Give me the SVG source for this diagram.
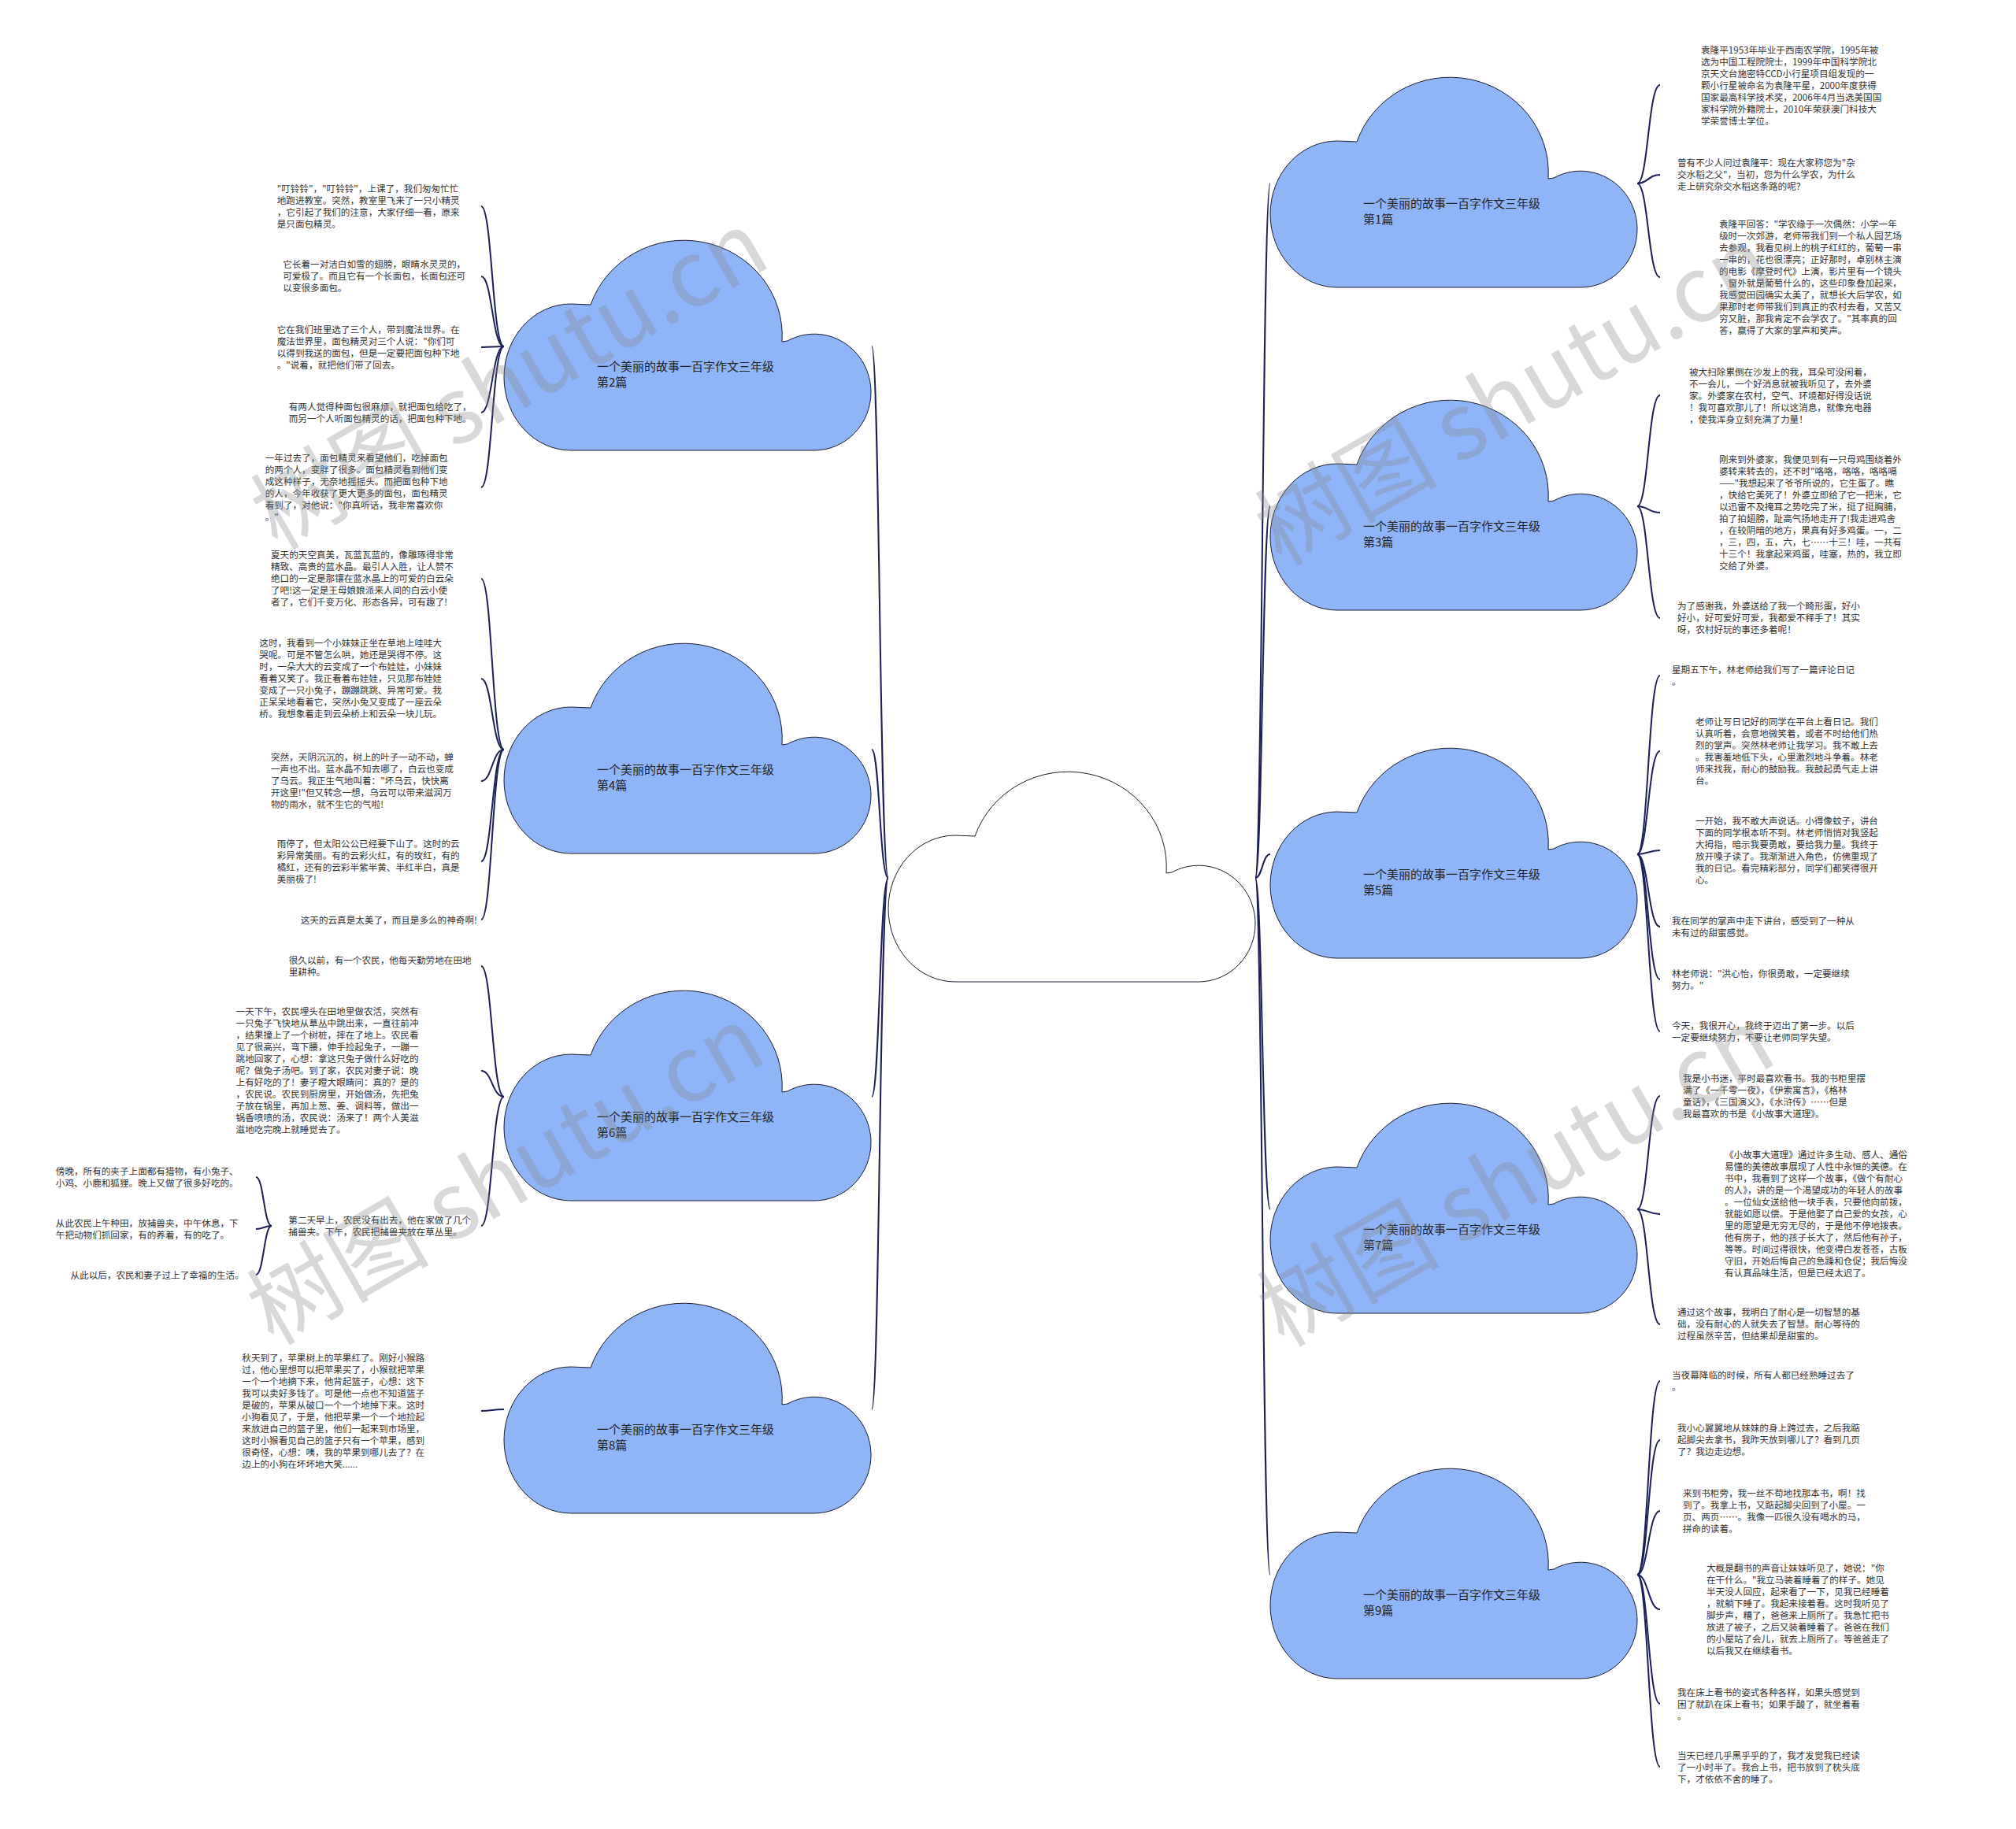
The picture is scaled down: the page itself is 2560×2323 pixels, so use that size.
<svg xmlns="http://www.w3.org/2000/svg" width="2560" height="2323" viewBox="0 0 2560 2323">
<style>
.t{font-family:"Noto Sans CJK SC","Noto Sans",sans-serif;font-size:11.6px;fill:#333}
.lb{font-family:"Noto Sans CJK SC","Noto Sans",sans-serif;font-size:15px;fill:#222}
.cb{fill:#8db5f8;stroke:#1a1a2e;stroke-width:1}
.cw{fill:#fff;stroke:#1a1a2e;stroke-width:1}
.c{fill:none;stroke:#1a1f55;stroke-width:2}
.wm{font-family:"Noto Sans CJK SC","Noto Sans",sans-serif;font-size:116px;fill:#8a8a8a;opacity:0.33}
</style>
<defs>
<path id="cloud" d="M85,264 A85 93 0 0 1 85,78 L110,79 A125 121 0 0 1 353,126 L360,125 A72 74 0 0 1 466,190 A72 74 0 0 1 394,264 Z"/>
</defs>
<rect width="2560" height="2323" fill="#fff"/>
<g id="connectors">
<path class="c" d="M1128,1115 C1117,1115 1117,440 1107,440"/>
<path class="c" d="M1128,1115 C1117,1115 1117,952 1107,952"/>
<path class="c" d="M1128,1115 C1117,1115 1117,1393 1107,1393"/>
<path class="c" d="M1128,1115 C1117,1115 1117,1790 1107,1790"/>
<path class="c" d="M1594,1115 C1603,1115 1603,233 1613,233"/>
<path class="c" d="M1594,1115 C1603,1115 1603,643 1613,643"/>
<path class="c" d="M1594,1115 C1603,1115 1603,1085 1613,1085"/>
<path class="c" d="M1594,1115 C1603,1115 1603,1536 1613,1536"/>
<path class="c" d="M1594,1115 C1603,1115 1603,2000 1613,2000"/>
<path class="c" d="M2079,233 C2093,233 2093,108 2108,108"/>
<path class="c" d="M2079,233 C2093,233 2093,222 2108,222"/>
<path class="c" d="M2079,233 C2093,233 2093,352 2108,352"/>
<path class="c" d="M2079,643 C2093,643 2093,502 2108,502"/>
<path class="c" d="M2079,643 C2093,643 2093,651 2108,651"/>
<path class="c" d="M2079,643 C2093,643 2093,785 2108,785"/>
<path class="c" d="M2079,1085 C2093,1085 2093,858 2108,858"/>
<path class="c" d="M2079,1085 C2093,1085 2093,954 2108,954"/>
<path class="c" d="M2079,1085 C2093,1085 2093,1080 2108,1080"/>
<path class="c" d="M2079,1085 C2093,1085 2093,1177 2108,1177"/>
<path class="c" d="M2079,1085 C2093,1085 2093,1244 2108,1244"/>
<path class="c" d="M2079,1085 C2093,1085 2093,1310 2108,1310"/>
<path class="c" d="M2079,1536 C2093,1536 2093,1392 2108,1392"/>
<path class="c" d="M2079,1536 C2093,1536 2093,1542 2108,1542"/>
<path class="c" d="M2079,1536 C2093,1536 2093,1682 2108,1682"/>
<path class="c" d="M2079,2000 C2093,2000 2093,1754 2108,1754"/>
<path class="c" d="M2079,2000 C2093,2000 2093,1829 2108,1829"/>
<path class="c" d="M2079,2000 C2093,2000 2093,1919 2108,1919"/>
<path class="c" d="M2079,2000 C2093,2000 2093,2044 2108,2044"/>
<path class="c" d="M2079,2000 C2093,2000 2093,2164 2108,2164"/>
<path class="c" d="M2079,2000 C2093,2000 2093,2244 2108,2244"/>
<path class="c" d="M640,440 C625,440 625,262 611,262"/>
<path class="c" d="M640,440 C625,440 625,351 611,351"/>
<path class="c" d="M640,440 C625,440 625,441 611,441"/>
<path class="c" d="M640,440 C625,440 625,524 611,524"/>
<path class="c" d="M640,440 C625,440 625,619 611,619"/>
<path class="c" d="M640,952 C625,952 625,735 611,735"/>
<path class="c" d="M640,952 C625,952 625,862 611,862"/>
<path class="c" d="M640,952 C625,952 625,992 611,992"/>
<path class="c" d="M640,952 C625,952 625,1094 611,1094"/>
<path class="c" d="M640,952 C625,952 625,1168 611,1168"/>
<path class="c" d="M640,1393 C625,1393 625,1227 611,1227"/>
<path class="c" d="M640,1393 C625,1393 625,1360 611,1360"/>
<path class="c" d="M640,1393 C625,1393 625,1557 611,1557"/>
<path class="c" d="M640,1790 C625,1790 625,1792 611,1792"/>
<path class="c" d="M345,1557 C335,1557 335,1495 325,1495"/>
<path class="c" d="M345,1557 C335,1557 335,1561 325,1561"/>
<path class="c" d="M345,1557 C335,1557 335,1619 325,1619"/>
</g>
<g id="root"><use href="#cloud" class="cw" transform="translate(1128,983)"/></g>
<g id="n1"><use href="#cloud" class="cb" transform="translate(1613,101)"/><text class="lb" x="1731" y="264">一个美丽的故事一百字作文三年级<tspan x="1731" dy="20">第1篇</tspan></text></g>
<g id="n3"><use href="#cloud" class="cb" transform="translate(1613,511)"/><text class="lb" x="1731" y="674">一个美丽的故事一百字作文三年级<tspan x="1731" dy="20">第3篇</tspan></text></g>
<g id="n5"><use href="#cloud" class="cb" transform="translate(1613,953)"/><text class="lb" x="1731" y="1116">一个美丽的故事一百字作文三年级<tspan x="1731" dy="20">第5篇</tspan></text></g>
<g id="n7"><use href="#cloud" class="cb" transform="translate(1613,1404)"/><text class="lb" x="1731" y="1567">一个美丽的故事一百字作文三年级<tspan x="1731" dy="20">第7篇</tspan></text></g>
<g id="n9"><use href="#cloud" class="cb" transform="translate(1613,1868)"/><text class="lb" x="1731" y="2031">一个美丽的故事一百字作文三年级<tspan x="1731" dy="20">第9篇</tspan></text></g>
<g id="n2"><use href="#cloud" class="cb" transform="translate(640,308)"/><text class="lb" x="758" y="471">一个美丽的故事一百字作文三年级<tspan x="758" dy="20">第2篇</tspan></text></g>
<g id="n4"><use href="#cloud" class="cb" transform="translate(640,820)"/><text class="lb" x="758" y="983">一个美丽的故事一百字作文三年级<tspan x="758" dy="20">第4篇</tspan></text></g>
<g id="n6"><use href="#cloud" class="cb" transform="translate(640,1261)"/><text class="lb" x="758" y="1424">一个美丽的故事一百字作文三年级<tspan x="758" dy="20">第6篇</tspan></text></g>
<g id="n8"><use href="#cloud" class="cb" transform="translate(640,1658)"/><text class="lb" x="758" y="1821">一个美丽的故事一百字作文三年级<tspan x="758" dy="20">第8篇</tspan></text></g>
<g id="b1"><text class="t" x="2160" y="67.6">袁隆平1953年毕业于西南农学院，1995年被<tspan x="2160" dy="15">选为中国工程院院士，1999年中国科学院北</tspan><tspan x="2160" dy="15">京天文台施密特CCD小行星项目组发现的一</tspan><tspan x="2160" dy="15">颗小行星被命名为袁隆平星，2000年度获得</tspan><tspan x="2160" dy="15">国家最高科学技术奖，2006年4月当选美国国</tspan><tspan x="2160" dy="15">家科学院外籍院士，2010年荣获澳门科技大</tspan><tspan x="2160" dy="15">学荣誉博士学位。</tspan></text></g>
<g id="b2"><text class="t" x="2130" y="211">曾有不少人问过袁隆平：现在大家称您为"杂<tspan x="2130" dy="15">交水稻之父"，当初，您为什么学农，为什么</tspan><tspan x="2130" dy="15">走上研究杂交水稻这条路的呢？</tspan></text></g>
<g id="b3"><text class="t" x="2183" y="289.3">袁隆平回答："学农缘于一次偶然：小学一年<tspan x="2183" dy="15">级时一次郊游，老师带我们到一个私人园艺场</tspan><tspan x="2183" dy="15">去参观，我看见树上的桃子红红的，葡萄一串</tspan><tspan x="2183" dy="15">一串的，花也很漂亮；正好那时，卓别林主演</tspan><tspan x="2183" dy="15">的电影《摩登时代》上演，影片里有一个镜头</tspan><tspan x="2183" dy="15">，窗外就是葡萄什么的，这些印象叠加起来，</tspan><tspan x="2183" dy="15">我感觉田园确实太美了，就想长大后学农，如</tspan><tspan x="2183" dy="15">果那时老师带我们到真正的农村去看，又苦又</tspan><tspan x="2183" dy="15">穷又脏，那我肯定不会学农了。"其率真的回</tspan><tspan x="2183" dy="15">答，赢得了大家的掌声和笑声。</tspan></text></g>
<g id="b4"><text class="t" x="2145" y="476.6">被大扫除累倒在沙发上的我，耳朵可没闲着，<tspan x="2145" dy="15">不一会儿，一个好消息就被我听见了，去外婆</tspan><tspan x="2145" dy="15">家。外婆家在农村，空气、环境都好得没话说</tspan><tspan x="2145" dy="15">！我可喜欢那儿了！所以这消息，就像充电器</tspan><tspan x="2145" dy="15">，使我浑身立刻充满了力量！</tspan></text></g>
<g id="b5"><text class="t" x="2183" y="588.3">刚来到外婆家，我便见到有一只母鸡围绕着外<tspan x="2183" dy="15">婆转来转去的，还不时"咯咯，咯咯，咯咯嗝</tspan><tspan x="2183" dy="15">——"我想起来了爷爷所说的，它生蛋了。瞧</tspan><tspan x="2183" dy="15">，快给它美死了！外婆立即给了它一把米，它</tspan><tspan x="2183" dy="15">以迅雷不及掩耳之势吃完了米，挺了挺胸脯，</tspan><tspan x="2183" dy="15">拍了拍翅膀，趾高气扬地走开了!我走进鸡舍</tspan><tspan x="2183" dy="15">，在较阴暗的地方，果真有好多鸡蛋。一，二</tspan><tspan x="2183" dy="15">，三，四，五，六，七……十三！哇，一共有</tspan><tspan x="2183" dy="15">十三个！我拿起来鸡蛋，哇塞，热的，我立即</tspan><tspan x="2183" dy="15">交给了外婆。</tspan></text></g>
<g id="b6"><text class="t" x="2130" y="774.3">为了感谢我，外婆送给了我一个畸形蛋，好小<tspan x="2130" dy="15">好小，好可爱好可爱，我都爱不释手了！其实</tspan><tspan x="2130" dy="15">呀，农村好玩的事还多着呢！</tspan></text></g>
<g id="b7"><text class="t" x="2123" y="855">星期五下午，林老师给我们写了一篇评论日记<tspan x="2123" dy="15">。</tspan></text></g>
<g id="b8"><text class="t" x="2153" y="921.3">老师让写日记好的同学在平台上看日记。我们<tspan x="2153" dy="15">认真听着，会意地微笑着，或者不时给他们热</tspan><tspan x="2153" dy="15">烈的掌声。突然林老师让我学习。我不敢上去</tspan><tspan x="2153" dy="15">。我害羞地低下头，心里激烈地斗争着。林老</tspan><tspan x="2153" dy="15">师来找我，耐心的鼓励我。我鼓起勇气走上讲</tspan><tspan x="2153" dy="15">台。</tspan></text></g>
<g id="b9"><text class="t" x="2153" y="1047.3">一开始，我不敢大声说话。小得像蚊子，讲台<tspan x="2153" dy="15">下面的同学根本听不到。林老师悄悄对我竖起</tspan><tspan x="2153" dy="15">大拇指，暗示我要勇敢，要给我力量。我终于</tspan><tspan x="2153" dy="15">放开嗓子读了。我渐渐进入角色，仿佛重现了</tspan><tspan x="2153" dy="15">我的日记。看完精彩部分，同学们都笑得很开</tspan><tspan x="2153" dy="15">心。</tspan></text></g>
<g id="b10"><text class="t" x="2123" y="1174.3">我在同学的掌声中走下讲台，感受到了一种从<tspan x="2123" dy="15">未有过的甜蜜感觉。</tspan></text></g>
<g id="b11"><text class="t" x="2123" y="1241.3">林老师说："洪心怡，你很勇敢，一定要继续<tspan x="2123" dy="15">努力。"</tspan></text></g>
<g id="b12"><text class="t" x="2123" y="1307">今天，我很开心，我终于迈出了第一步。以后<tspan x="2123" dy="15">一定要继续努力，不要让老师同学失望。</tspan></text></g>
<g id="b13"><text class="t" x="2137" y="1374.3">我是小书迷，平时最喜欢看书。我的书柜里摆<tspan x="2137" dy="15">满了《一千零一夜》，《伊索寓言》，《格林</tspan><tspan x="2137" dy="15">童话》，《三国演义》，《水浒传》……但是</tspan><tspan x="2137" dy="15">我最喜欢的书是《小故事大道理》。</tspan></text></g>
<g id="b14"><text class="t" x="2190" y="1471">《小故事大道理》通过许多生动、感人、通俗<tspan x="2190" dy="15">易懂的美德故事展现了人性中永恒的美德。在</tspan><tspan x="2190" dy="15">书中，我看到了这样一个故事，《做个有耐心</tspan><tspan x="2190" dy="15">的人》，讲的是一个渴望成功的年轻人的故事</tspan><tspan x="2190" dy="15">。一位仙女送给他一块手表，只要他向前拨，</tspan><tspan x="2190" dy="15">就能如愿以偿。于是他娶了自己爱的女孩，心</tspan><tspan x="2190" dy="15">里的愿望是无穷无尽的，于是他不停地拨表。</tspan><tspan x="2190" dy="15">他有房子，他的孩子长大了，然后他有孙子，</tspan><tspan x="2190" dy="15">等等。时间过得很快，他变得白发苍苍，古板</tspan><tspan x="2190" dy="15">守旧，开始后悔自己的急躁和仓促；我后悔没</tspan><tspan x="2190" dy="15">有认真品味生活，但是已经太迟了。</tspan></text></g>
<g id="b15"><text class="t" x="2130" y="1671">通过这个故事，我明白了耐心是一切智慧的基<tspan x="2130" dy="15">础，没有耐心的人就失去了智慧。耐心等待的</tspan><tspan x="2130" dy="15">过程虽然辛苦，但结果却是甜蜜的。</tspan></text></g>
<g id="b16"><text class="t" x="2123" y="1751.3">当夜幕降临的时候，所有人都已经熟睡过去了<tspan x="2123" dy="15">。</tspan></text></g>
<g id="b17"><text class="t" x="2130" y="1818.3">我小心翼翼地从妹妹的身上跨过去，之后我踮<tspan x="2130" dy="15">起脚尖去拿书，我昨天放到哪儿了？看到几页</tspan><tspan x="2130" dy="15">了？我边走边想。</tspan></text></g>
<g id="b18"><text class="t" x="2137" y="1901">来到书柜旁，我一丝不苟地找那本书，啊！找<tspan x="2137" dy="15">到了。我拿上书，又踮起脚尖回到了小屋。一</tspan><tspan x="2137" dy="15">页、两页……。我像一匹很久没有喝水的马，</tspan><tspan x="2137" dy="15">拼命的读着。</tspan></text></g>
<g id="b19"><text class="t" x="2167" y="1996">大概是翻书的声音让妹妹听见了，她说："你<tspan x="2167" dy="15">在干什么。"我立马装着睡着了的样子。她见</tspan><tspan x="2167" dy="15">半天没人回应，起来看了一下，见我已经睡着</tspan><tspan x="2167" dy="15">，就躺下睡了。我起来接着看。这时我听见了</tspan><tspan x="2167" dy="15">脚步声，糟了，爸爸来上厕所了。我急忙把书</tspan><tspan x="2167" dy="15">放进了被子，之后又装着睡着了。爸爸在我们</tspan><tspan x="2167" dy="15">的小屋站了会儿，就去上厕所了。等爸爸走了</tspan><tspan x="2167" dy="15">以后我又在继续看书。</tspan></text></g>
<g id="b20"><text class="t" x="2130" y="2153.6">我在床上看书的姿式各种各样，如果头感觉到<tspan x="2130" dy="15">困了就趴在床上看书；如果手酸了，就坐着看</tspan><tspan x="2130" dy="15">。</tspan></text></g>
<g id="b21"><text class="t" x="2130" y="2233.6">当天已经几乎黑乎乎的了，我才发觉我已经读<tspan x="2130" dy="15">了一小时半了。我合上书，把书放到了枕头底</tspan><tspan x="2130" dy="15">下，才依依不舍的睡了。</tspan></text></g>
<g id="l1"><text class="t" x="351.7" y="244.3">"叮铃铃"，"叮铃铃"，上课了，我们匆匆忙忙<tspan x="351.7" dy="15">地跑进教室。突然，教室里飞来了一只小精灵</tspan><tspan x="351.7" dy="15">，它引起了我们的注意，大家仔细一看，原来</tspan><tspan x="351.7" dy="15">是只面包精灵。</tspan></text></g>
<g id="l2"><text class="t" x="359.3" y="340">它长着一对洁白如雪的翅膀，眼睛水灵灵的，<tspan x="359.3" dy="15">可爱极了。而且它有一个长面包，长面包还可</tspan><tspan x="359.3" dy="15">以变很多面包。</tspan></text></g>
<g id="l3"><text class="t" x="351.7" y="422.6">它在我们班里选了三个人，带到魔法世界。在<tspan x="351.7" dy="15">魔法世界里，面包精灵对三个人说："你们可</tspan><tspan x="351.7" dy="15">以得到我送的面包，但是一定要把面包种下地</tspan><tspan x="351.7" dy="15">。"说着，就把他们带了回去。</tspan></text></g>
<g id="l4"><text class="t" x="366.7" y="521">有两人觉得种面包很麻烦，就把面包给吃了，<tspan x="366.7" dy="15">而另一个人听面包精灵的话，把面包种下地。</tspan></text></g>
<g id="l5"><text class="t" x="336.7" y="586">一年过去了，面包精灵来看望他们，吃掉面包<tspan x="336.7" dy="15">的两个人，变胖了很多。面包精灵看到他们变</tspan><tspan x="336.7" dy="15">成这种样子，无奈地摇摇头。而把面包种下地</tspan><tspan x="336.7" dy="15">的人，今年收获了更大更多的面包，面包精灵</tspan><tspan x="336.7" dy="15">看到了，对他说："你真听话，我非常喜欢你</tspan><tspan x="336.7" dy="15">。"</tspan></text></g>
<g id="l6"><text class="t" x="344" y="709.3">夏天的天空真美，瓦蓝瓦蓝的，像雕琢得非常<tspan x="344" dy="15">精致、高贵的蓝水晶。最引人入胜，让人赞不</tspan><tspan x="344" dy="15">绝口的一定是那镶在蓝水晶上的可爱的白云朵</tspan><tspan x="344" dy="15">了吧!这一定是王母娘娘派来人间的白云小使</tspan><tspan x="344" dy="15">者了，它们千变万化、形态各异，可有趣了!</tspan></text></g>
<g id="l7"><text class="t" x="329.3" y="821">这时，我看到一个小妹妹正坐在草地上哇哇大<tspan x="329.3" dy="15">哭呢。可是不管怎么哄，她还是哭得不停。这</tspan><tspan x="329.3" dy="15">时，一朵大大的云变成了一个布娃娃，小妹妹</tspan><tspan x="329.3" dy="15">看着又笑了。我正看着布娃娃，只见那布娃娃</tspan><tspan x="329.3" dy="15">变成了一只小兔子，蹦蹦跳跳、异常可爱。我</tspan><tspan x="329.3" dy="15">正呆呆地看着它，突然小兔又变成了一座云朵</tspan><tspan x="329.3" dy="15">桥。我想象着走到云朵桥上和云朵一块儿玩。</tspan></text></g>
<g id="l8"><text class="t" x="344" y="966">突然，天阴沉沉的，树上的叶子一动不动，蝉<tspan x="344" dy="15">一声也不出。蓝水晶不知去哪了，白云也变成</tspan><tspan x="344" dy="15">了乌云。我正生气地叫着："坏乌云，快快离</tspan><tspan x="344" dy="15">开这里!"但又转念一想，乌云可以带来滋润万</tspan><tspan x="344" dy="15">物的雨水，就不生它的气啦!</tspan></text></g>
<g id="l9"><text class="t" x="351.7" y="1076">雨停了，但太阳公公已经要下山了。这时的云<tspan x="351.7" dy="15">彩异常美丽。有的云彩火红，有的玫红，有的</tspan><tspan x="351.7" dy="15">橘红，还有的云彩半紫半黄、半红半白，真是</tspan><tspan x="351.7" dy="15">美丽极了!</tspan></text></g>
<g id="l10"><text class="t" x="381.7" y="1172.6">这天的云真是太美了，而且是多么的神奇啊!</text></g>
<g id="l11"><text class="t" x="366.7" y="1224.3">很久以前，有一个农民，他每天勤劳地在田地<tspan x="366.7" dy="15">里耕种。</tspan></text></g>
<g id="l12"><text class="t" x="299.6" y="1289.3">一天下午，农民埋头在田地里做农活，突然有<tspan x="299.6" dy="15">一只兔子飞快地从草丛中跳出来，一直往前冲</tspan><tspan x="299.6" dy="15">，结果撞上了一个树桩，摔在了地上。农民看</tspan><tspan x="299.6" dy="15">见了很高兴，弯下腰，伸手捡起兔子，一蹦一</tspan><tspan x="299.6" dy="15">跳地回家了，心想：拿这只兔子做什么好吃的</tspan><tspan x="299.6" dy="15">呢？做兔子汤吧。到了家，农民对妻子说：晚</tspan><tspan x="299.6" dy="15">上有好吃的了！妻子瞪大眼睛问：真的？是的</tspan><tspan x="299.6" dy="15">，农民说。农民到厨房里，开始做汤，先把兔</tspan><tspan x="299.6" dy="15">子放在锅里，再加上葱、姜、调料等，做出一</tspan><tspan x="299.6" dy="15">锅香喷喷的汤，农民说：汤来了！两个人美滋</tspan><tspan x="299.6" dy="15">滋地吃完晚上就睡觉去了。</tspan></text></g>
<g id="l16"><text class="t" x="366.3" y="1554.3">第二天早上，农民没有出去，他在家做了几个<tspan x="366.3" dy="15">捕兽夹。下午，农民把捕兽夹放在草丛里。</tspan></text></g>
<g id="l13"><text class="t" x="70.8" y="1491.6">傍晚，所有的夹子上面都有猎物，有小兔子、<tspan x="70.8" dy="15">小鸡、小鹿和狐狸。晚上又做了很多好吃的。</tspan></text></g>
<g id="l14"><text class="t" x="70.8" y="1557.6">从此农民上午种田，放捕兽夹，中午休息，下<tspan x="70.8" dy="15">午把动物们抓回家，有的养着，有的吃了。</tspan></text></g>
<g id="l15"><text class="t" x="89.5" y="1623.6">从此以后，农民和妻子过上了幸福的生活。</text></g>
<g id="l17"><text class="t" x="307.3" y="1729.3">秋天到了，苹果树上的苹果红了。刚好小猴路<tspan x="307.3" dy="15">过，他心里想可以把苹果买了，小猴就把苹果</tspan><tspan x="307.3" dy="15">一个一个地摘下来，他背起篮子，心想：这下</tspan><tspan x="307.3" dy="15">我可以卖好多钱了。可是他一点也不知道篮子</tspan><tspan x="307.3" dy="15">是破的，苹果从破口一个一个地掉下来。这时</tspan><tspan x="307.3" dy="15">小狗看见了，于是，他把苹果一个一个地捡起</tspan><tspan x="307.3" dy="15">来放进自己的篮子里，他们一起来到市场里，</tspan><tspan x="307.3" dy="15">这时小猴看见自己的篮子只有一个苹果，感到</tspan><tspan x="307.3" dy="15">很奇怪，心想：咦，我的苹果到哪儿去了？在</tspan><tspan x="307.3" dy="15">边上的小狗在坏坏地大笑......</tspan></text></g>
<g id="watermarks">
<text class="wm" transform="translate(352,700) rotate(-30)">树图 shutu.cn</text>
<text class="wm" transform="translate(347,1710) rotate(-30)">树图 shutu.cn</text>
<text class="wm" transform="translate(1627,720) rotate(-30)">树图 shutu.cn</text>
<text class="wm" transform="translate(1630,1712) rotate(-30)">树图 shutu.cn</text>
</g>
</svg>
